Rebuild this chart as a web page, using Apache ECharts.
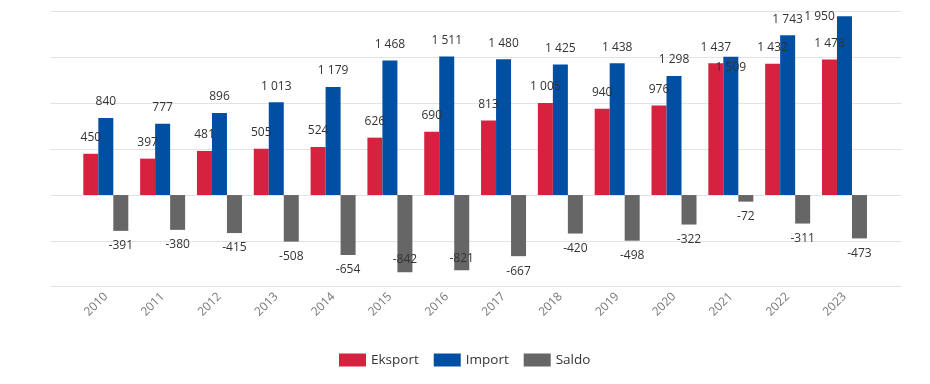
<!DOCTYPE html>
<html>
<head>
<meta charset="utf-8">
<script src="https://cdn.jsdelivr.net/npm/echarts@6/dist/echarts.min.js"></script>
<style>
  html, body { margin: 0; padding: 0; background: #fff; }
  #chart { width: 930px; height: 384px; }
</style>
</head>
<body>
<div id="chart"></div>
<script>
const categories = ['2010','2011','2012','2013','2014','2015','2016','2017','2018','2019','2020','2021','2022','2023'];
const eksport = [450, 397, 481, 505, 524, 626, 690, 813, 1005, 940, 976, 1437, 1432, 1478];
const importVals = [840, 777, 896, 1013, 1179, 1468, 1511, 1480, 1425, 1438, 1298, 1509, 1743, 1950];
const saldo = [-391, -380, -415, -508, -654, -842, -821, -667, -420, -498, -322, -72, -311, -473];
const seriesNames = ['Eksport', 'Import', 'Saldo'];
const yMin = -1000, yMax = 2000, yStep = 500;

const colors = ['#D6213F', '#004FA3', '#666666'];
const font = "'Segoe UI', 'Open Sans', sans-serif";

function fmt(v) {
  const s = String(Math.abs(v)).replace(/\B(?=(\d{3})+(?!\d))/g, ' ');
  return (v < 0 ? '-' : '') + s;
}

// label placement tweaks (style only), keyed by series index then data index
const labelTweaks = {
  1: { 11: { position: 'insideTop', distance: 5 },
       13: { position: 'top', distance: -6, offset: [-25, 0] } },
  2: { 5: { position: 'insideBottom', distance: 7 },
       6: { position: 'insideBottom', distance: 6 } }
};

function buildData(vals, si) {
  return vals.map((v, i) => {
    const base = v < 0 ? { position: 'bottom', distance: 9 } : { position: 'top', distance: 10 };
    const tw = (labelTweaks[si] && labelTweaks[si][i]) || {};
    return { value: v, label: Object.assign({}, base, tw) };
  });
}

const valueSets = [eksport, importVals, saldo];

const chart = echarts.init(document.getElementById('chart'), null, { renderer: 'canvas' });

const gridTop = 11.7, gridBottom = 97.3;
const option = {
  animation: false,
  textStyle: { fontFamily: font },
  legend: {
    data: seriesNames,
    left: 334,
    top: 348,
    itemWidth: 27,
    itemHeight: 13,
    itemGap: 15,
    icon: 'rect',
    textStyle: { fontFamily: font, fontSize: 13.5, color: '#333' }
  },
  grid: [
    { left: 50, right: 28, top: gridTop, bottom: gridBottom },
    { left: 77.4, width: 14 * 56.82, top: gridTop, bottom: gridBottom }
  ],
  xAxis: [
    { gridIndex: 0, type: 'category', data: categories, show: false },
    {
      gridIndex: 1, type: 'category', data: categories,
      axisLine: { show: false }, axisTick: { show: false },
      axisLabel: { rotate: 45, margin: 8, fontSize: 12, color: '#777', fontFamily: font }
    }
  ],
  yAxis: [
    {
      gridIndex: 0, type: 'value', min: yMin, max: yMax, interval: yStep,
      axisLabel: { show: false }, axisLine: { show: false }, axisTick: { show: false },
      splitLine: { lineStyle: { color: '#e3e3e3', width: 1 } }
    },
    {
      gridIndex: 1, type: 'value', min: yMin, max: yMax, interval: yStep,
      show: false, splitLine: { show: false }
    }
  ],
  series: seriesNames.map((name, si) => ({
    name: name,
    type: 'bar',
    xAxisIndex: 1,
    yAxisIndex: 1,
    barWidth: 15,
    barGap: '0%',
    itemStyle: { color: colors[si] },
    label: {
      show: true,
      color: '#333',
      fontSize: 12,
      fontFamily: font,
      formatter: p => fmt(p.value)
    },
    data: buildData(valueSets[si], si)
  }))
};
chart.setOption(option);
</script>
</body>
</html>
